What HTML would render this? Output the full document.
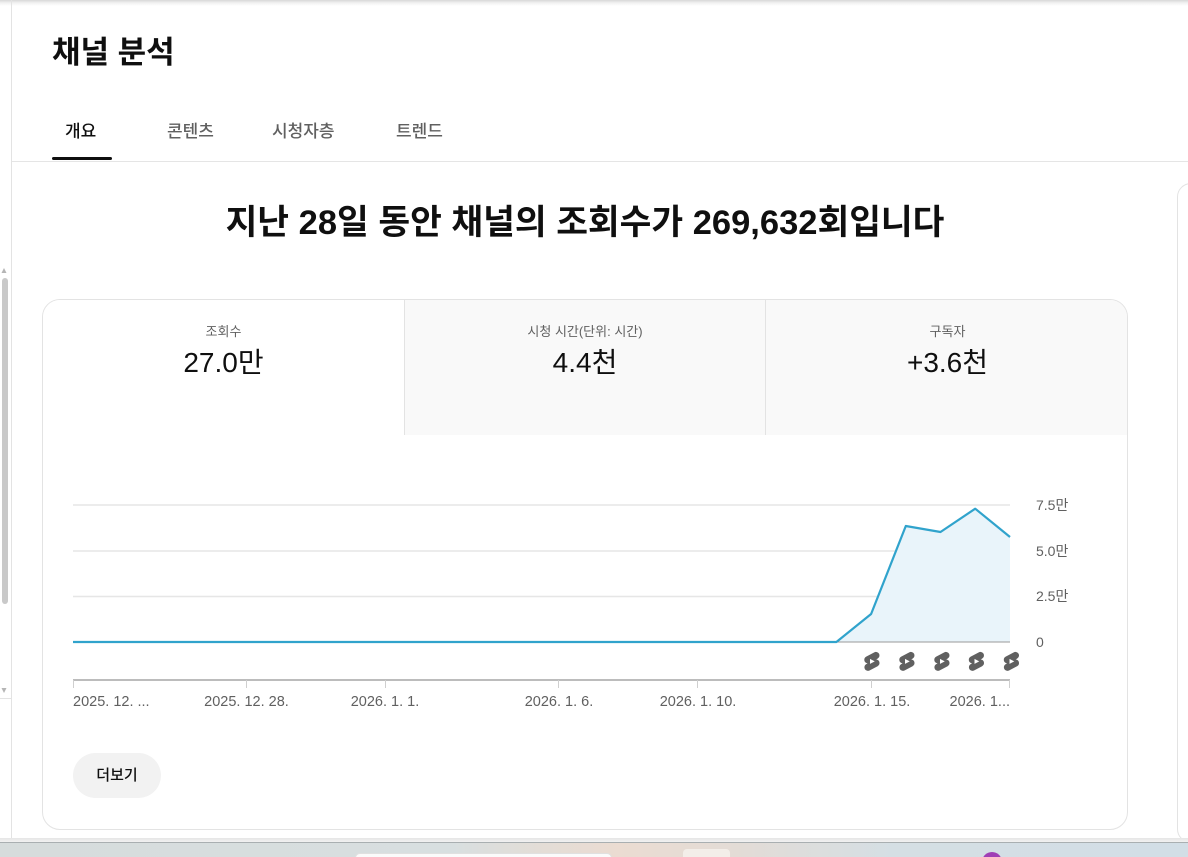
<!DOCTYPE html>
<html><head><meta charset="utf-8">
<style>
*{margin:0;padding:0;box-sizing:border-box}
html,body{width:1188px;height:857px;overflow:hidden;background:#fff;font-family:"Liberation Sans","Noto Sans CJK KR",sans-serif;color:#0f0f0f;position:relative}
.abs{position:absolute}
.topshadow{left:0;top:0;width:1188px;height:6px;background:linear-gradient(#d8d8d8,#f2f2f2 50%,#fff)}
.sideline{left:11px;top:0;width:1px;height:840px;background:#e3e3e3}
.thumb{left:2px;top:278px;width:6px;height:326px;background:#c9c9c9;border-radius:3px}
.title{left:52px;top:33px;font-size:31px;font-weight:700;line-height:40px;white-space:nowrap}
.tab{top:120px;font-size:17px;line-height:24px;color:#606060;font-weight:500;white-space:nowrap}
.underline{left:52px;top:157px;width:60px;height:3px;background:#0f0f0f;border-radius:2px}
.hdiv{left:12px;top:161px;width:1176px;height:1px;background:#e5e5e5}
.headline{left:0;width:1170px;top:201px;text-align:center;font-size:34.5px;font-weight:700;line-height:44px;white-space:nowrap}
.card{left:42px;top:299px;width:1086px;height:531px;border:1px solid #e3e3e3;border-radius:18px;overflow:hidden;background:#fff}
.mcol{top:0;height:135px;width:361px;text-align:center}
.mlabel{font-size:13px;color:#606060;line-height:18px;margin-top:23px}
.mval{font-size:28px;line-height:36px;margin-top:4px;color:#0f0f0f}
.more{left:73px;top:753px;width:88px;height:45px;border-radius:23px;background:#f2f2f2;font-size:15px;font-weight:500;line-height:45px;text-align:center}
.rcard{left:1177px;top:183px;width:40px;height:660px;border:1px solid #e3e3e3;border-radius:14px}
.bottomline{left:0;top:838px;width:1188px;height:4px;background:linear-gradient(#e6e6e6,#f2f2f2)}
.taskbar{left:0;top:842px;width:1188px;height:15px;border-top:1px solid #a9afb1;background:linear-gradient(90deg,#d6dcdc 0%,#d8dfe0 38%,#e4ddd6 46%,#ebdcd2 52%,#e3dcd6 62%,#d5dfe4 75%,#d2dee6 100%);overflow:hidden}
</style></head><body>
<div class="abs topshadow"></div>
<div class="abs sideline"></div>
<div class="abs thumb"></div>
<svg class="abs" style="left:0;top:0" width="12" height="857">
<polygon points="1.5,273 6.5,273 4,268" fill="#b5b5b5"/>
<polygon points="1.5,688 6.5,688 4,693" fill="#b5b5b5"/>
<line x1="0" y1="698.5" x2="11" y2="698.5" stroke="#e3e3e3"/>
</svg>

<div class="abs title">채널 분석</div>
<div class="abs tab" style="left:65px;color:#0f0f0f">개요</div>
<div class="abs tab" style="left:167px">콘텐츠</div>
<div class="abs tab" style="left:272px">시청자층</div>
<div class="abs tab" style="left:396px">트렌드</div>
<div class="abs underline"></div>
<div class="abs hdiv"></div>

<div class="abs headline">지난 28일 동안 채널의 조회수가 269,632회입니다</div>

<div class="abs rcard"></div>

<div class="abs card">
  <div class="abs mcol" style="left:0;background:#fff">
    <div class="mlabel">조회수</div><div class="mval">27.0만</div>
  </div>
  <div class="abs mcol" style="left:361px;background:#f9f9f9;border-left:1px solid #e3e3e3">
    <div class="mlabel">시청 시간(단위: 시간)</div><div class="mval">4.4천</div>
  </div>
  <div class="abs mcol" style="left:722px;width:364px;background:#f9f9f9;border-left:1px solid #e3e3e3">
    <div class="mlabel">구독자</div><div class="mval">+3.6천</div>
  </div>
</div>

<svg class="abs" style="left:0;top:0" width="1188" height="857">
  <defs>
    <g id="sh">
      <path d="M17.77 10.32l-1.2-.5L18 9.06a3.74 3.74 0 00-3.5-6.62L6 6.94a3.74 3.74 0 00.23 6.74l1.2.49L6 14.93a3.75 3.75 0 003.5 6.63l8.5-4.5a3.74 3.74 0 00-.23-6.74z" fill="#606060"/>
      <path d="M10 14.65v-5.3L15 12l-5 2.65z" fill="#fff"/>
    </g>
  </defs>
  <g stroke="#e6e6e6" stroke-width="1.5">
    <line x1="73" y1="505" x2="1010" y2="505"/>
    <line x1="73" y1="551" x2="1010" y2="551"/>
    <line x1="73" y1="596.5" x2="1010" y2="596.5"/>
  </g>
  <path d="M73,642 L836.4,642 L871.1,614 L905.8,526 L940.5,532 L975.2,508.7 L1010,537 L1010,642 Z" fill="#e9f4fa"/>
  <line x1="73" y1="642" x2="1010" y2="642" stroke="#9a9a9a" stroke-width="1"/>
  <polyline points="73,642 836.4,642 871.1,614 905.8,526 940.5,532 975.2,508.7 1010,537" fill="none" stroke="#30a3cc" stroke-width="2.2" stroke-linejoin="round"/>
  <g font-family="Liberation Sans, Noto Sans CJK KR, sans-serif" font-size="14" fill="#606060">
    <text x="1036" y="510">7.5만</text>
    <text x="1036" y="556">5.0만</text>
    <text x="1036" y="601">2.5만</text>
    <text x="1036" y="647">0</text>
  </g>
  <use href="#sh" transform="translate(860.5,650) scale(0.95)"/>
  <use href="#sh" transform="translate(895.5,650) scale(0.95)"/>
  <use href="#sh" transform="translate(930.5,650) scale(0.95)"/>
  <use href="#sh" transform="translate(965,650) scale(0.95)"/>
  <use href="#sh" transform="translate(1000,650) scale(0.95)"/>
  <line x1="73" y1="680" x2="1010" y2="680" stroke="#bcbcbc" stroke-width="2"/>
  <g stroke="#cfcfcf" stroke-width="1">
    <line x1="73.5" y1="680" x2="73.5" y2="688"/>
    <line x1="246.5" y1="680" x2="246.5" y2="688"/>
    <line x1="385.5" y1="680" x2="385.5" y2="688"/>
    <line x1="558.5" y1="680" x2="558.5" y2="688"/>
    <line x1="697.5" y1="680" x2="697.5" y2="688"/>
    <line x1="871.5" y1="680" x2="871.5" y2="688"/>
    <line x1="1009.5" y1="680" x2="1009.5" y2="688"/>
  </g>
  <g font-family="Liberation Sans, sans-serif" font-size="14.5" fill="#606060">
    <text x="73" y="706">2025. 12. ...</text>
    <text x="246.5" y="706" text-anchor="middle">2025. 12. 28.</text>
    <text x="385" y="706" text-anchor="middle">2026. 1. 1.</text>
    <text x="559" y="706" text-anchor="middle">2026. 1. 6.</text>
    <text x="698" y="706" text-anchor="middle">2026. 1. 10.</text>
    <text x="872" y="706" text-anchor="middle">2026. 1. 15.</text>
    <text x="1010" y="706" text-anchor="end">2026. 1...</text>
  </g>
</svg>

<div class="abs more">더보기</div>

<div class="abs bottomline"></div>
<div class="abs taskbar">
  <div class="abs" style="left:355px;top:10px;width:257px;height:10px;background:#fbfbfb;border-radius:6px;border:1px solid #e0e0e0"></div>
  <div class="abs" style="left:683px;top:6px;width:47px;height:12px;background:#f3eee9;border-radius:4px"></div>
  <div class="abs" style="left:982px;top:9px;width:20px;height:20px;background:#a03fb5;border-radius:50%"></div>
</div>
</body></html>
